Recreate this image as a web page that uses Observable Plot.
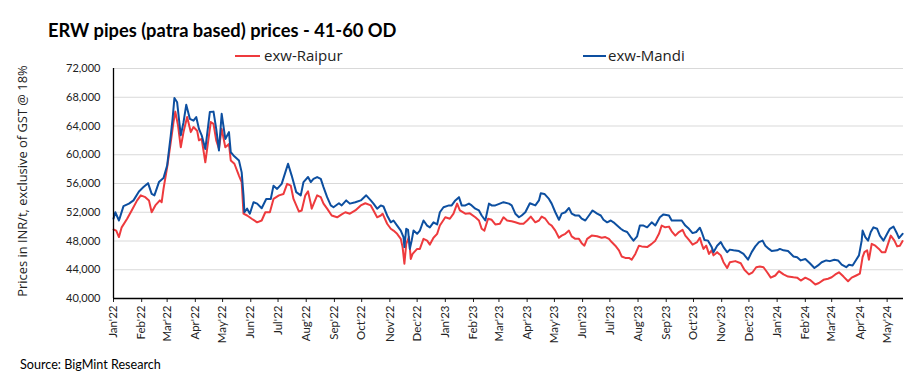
<!DOCTYPE html>
<html>
<head>
<meta charset="utf-8">
<script src="https://cdn.jsdelivr.net/npm/d3@7"></script>
<script src="https://cdn.jsdelivr.net/npm/@observablehq/plot@0.6"></script>
<style>
  html, body { margin: 0; padding: 0; background: #fff; }
  #wrap { position: relative; width: 917px; height: 380px; overflow: hidden; background: #fff; }
  #chart { position: absolute; left: 0; top: 50px; z-index: 1; }
  #title { position: absolute; left: 48px; top: 20px; font: bold 18.3px Lato, "Open Sans", sans-serif; line-height: 20px; color: #000; white-space: nowrap; z-index: 2; }
  .leg { position: absolute; top: 45px; font: 15px "Open Sans", sans-serif; line-height: 20px; color: #222; white-space: nowrap; z-index: 2; }
  .legline { position: absolute; top: 54.5px; height: 2.2px; z-index: 2; }
  #source { position: absolute; left: 20px; top: 358px; font: 12.6px Lato, sans-serif; line-height: 14px; color: #000; white-space: nowrap; z-index: 2; }
  #ylabel { position: absolute; left: -128px; top: 173px; width: 300px; text-align: center; font: 12.9px "Open Sans", sans-serif; line-height: 16px; color: #222; white-space: nowrap; transform: rotate(-90deg); transform-origin: 50% 50%; z-index: 2; }
</style>
</head>
<body>
<div id="wrap">
  <div id="chart"></div>
  <div id="title"></div>
  <div class="legline" style="left:235px;width:25px;background:#ee3a3d"></div>
  <div class="leg" id="leg1" style="left:264px"></div>
  <div class="legline" style="left:583px;width:23px;background:#0d4fa0"></div>
  <div class="leg" id="leg2" style="left:608px"></div>
  <div id="ylabel"></div>
  <div id="source"></div>
</div>
<script>
const titleText = "ERW pipes (patra based) prices - 41-60 OD";
const seriesNames = ["exw-Raipur", "exw-Mandi"];
const yLabel = "Prices in INR/t, exclusive of GST @ 18%";
const sourceText = "Source: BigMint Research";

const yTicks = [40000, 44000, 48000, 52000, 56000, 60000, 64000, 68000, 72000];
const monthTicks = ["2022-01-01","2022-02-01","2022-03-01","2022-04-01","2022-05-01","2022-06-01","2022-07-01","2022-08-01","2022-09-01","2022-10-01","2022-11-01","2022-12-01","2023-01-01","2023-02-01","2023-03-01","2023-04-01","2023-05-01","2023-06-01","2023-07-01","2023-08-01","2023-09-01","2023-10-01","2023-11-01","2023-12-01","2024-01-01","2024-02-01","2024-03-01","2024-04-01","2024-05-01"];
const monthLabels = ["Jan'22","Feb'22","Mar'22","Apr'22","May'22","Jun'22","Jul'22","Aug'22","Sep'22","Oct'22","Nov'22","Dec'22","Jan'23","Feb'23","Mar'23","Apr'23","May'23","Jun'23","Jul'23","Aug'23","Sep'23","Oct'23","Nov'23","Dec'23","Jan'24","Feb'24","Mar'24","Apr'24","May'24"];
const xDomain = ["2022-01-01", "2024-05-19"];

const mandiDates = ["2022-01-01","2022-01-03","2022-01-07","2022-01-12","2022-01-18","2022-01-23","2022-01-29","2022-02-03","2022-02-08","2022-02-12","2022-02-15","2022-02-20","2022-02-25","2022-03-01","2022-03-05","2022-03-07","2022-03-09","2022-03-12","2022-03-16","2022-03-19","2022-03-22","2022-03-26","2022-03-30","2022-04-02","2022-04-05","2022-04-08","2022-04-12","2022-04-17","2022-04-21","2022-04-24","2022-04-27","2022-04-30","2022-05-04","2022-05-08","2022-05-10","2022-05-13","2022-05-19","2022-05-22","2022-05-24","2022-05-25","2022-05-28","2022-05-31","2022-06-04","2022-06-08","2022-06-13","2022-06-18","2022-06-23","2022-06-26","2022-06-30","2022-07-05","2022-07-09","2022-07-12","2022-07-16","2022-07-21","2022-07-26","2022-07-29","2022-08-03","2022-08-06","2022-08-09","2022-08-13","2022-08-17","2022-08-20","2022-08-24","2022-08-28","2022-08-31","2022-09-06","2022-09-09","2022-09-14","2022-09-18","2022-09-24","2022-09-30","2022-10-06","2022-10-11","2022-10-14","2022-10-18","2022-10-22","2022-10-25","2022-10-29","2022-11-02","2022-11-05","2022-11-09","2022-11-13","2022-11-16","2022-11-17","2022-11-19","2022-11-21","2022-11-23","2022-11-25","2022-11-27","2022-12-01","2022-12-04","2022-12-08","2022-12-12","2022-12-15","2022-12-19","2022-12-23","2022-12-26","2022-12-30","2023-01-05","2023-01-08","2023-01-12","2023-01-16","2023-01-19","2023-01-23","2023-01-27","2023-01-30","2023-02-03","2023-02-07","2023-02-10","2023-02-14","2023-02-18","2023-02-21","2023-02-25","2023-03-02","2023-03-06","2023-03-12","2023-03-15","2023-03-19","2023-03-23","2023-03-26","2023-03-30","2023-04-04","2023-04-10","2023-04-14","2023-04-16","2023-04-20","2023-04-25","2023-04-28","2023-05-02","2023-05-06","2023-05-09","2023-05-13","2023-05-17","2023-05-20","2023-05-24","2023-05-28","2023-05-31","2023-06-04","2023-06-08","2023-06-12","2023-06-17","2023-06-21","2023-06-24","2023-06-28","2023-07-02","2023-07-05","2023-07-09","2023-07-13","2023-07-16","2023-07-20","2023-07-24","2023-07-27","2023-07-31","2023-08-03","2023-08-07","2023-08-11","2023-08-16","2023-08-20","2023-08-25","2023-08-29","2023-09-04","2023-09-07","2023-09-13","2023-09-18","2023-09-22","2023-09-26","2023-09-30","2023-10-04","2023-10-08","2023-10-10","2023-10-13","2023-10-17","2023-10-21","2023-10-23","2023-10-27","2023-10-31","2023-11-03","2023-11-07","2023-11-10","2023-11-14","2023-11-20","2023-11-25","2023-11-30","2023-12-04","2023-12-08","2023-12-12","2023-12-16","2023-12-19","2023-12-23","2023-12-26","2024-01-01","2024-01-04","2024-01-08","2024-01-13","2024-01-19","2024-01-23","2024-01-27","2024-02-01","2024-02-06","2024-02-11","2024-02-15","2024-02-19","2024-02-24","2024-02-28","2024-03-04","2024-03-08","2024-03-12","2024-03-17","2024-03-20","2024-03-24","2024-03-28","2024-03-31","2024-04-03","2024-04-04","2024-04-07","2024-04-10","2024-04-13","2024-04-16","2024-04-20","2024-04-23","2024-04-27","2024-05-01","2024-05-04","2024-05-08","2024-05-12","2024-05-14","2024-05-18"];
const mandiValues = [51100,52000,50850,52850,53200,53650,54900,55500,56050,54550,54350,56200,56750,58500,62700,65000,67900,67300,62700,64500,66950,65000,64750,65250,63600,62700,60800,65950,66000,63600,60600,65700,62200,63150,60350,59900,59200,57550,54350,52000,52500,51800,53400,53200,52550,53850,53850,55700,55250,55950,57550,58750,57100,54800,54350,56200,56900,56200,56650,56900,56650,55500,54100,52950,52700,53250,52950,53650,53200,53400,53650,54350,53650,53200,52500,52950,52800,51550,50600,50850,50150,49450,48550,47150,49700,49550,46900,48050,49450,49000,49450,50850,50150,49900,50600,50300,52000,52700,52950,52950,53650,54100,52950,52950,53200,52950,52500,52250,51550,50850,53200,52950,52950,53200,53400,53200,52950,51800,51300,51550,52000,53250,52950,53650,54650,54550,53850,53200,52000,50950,51800,52000,52600,51800,51550,51550,51100,50850,51550,52250,51800,51550,50950,50600,50850,50600,50150,49700,49450,49250,48550,48050,48650,50150,50150,49900,50600,50150,51300,51700,51550,50850,50850,50850,50150,49700,49100,49250,49850,49250,48150,48050,47150,46450,47350,47850,47150,46450,46800,46700,46600,46200,45400,46450,47250,47850,48050,47350,46900,46600,46700,46900,46700,46600,45850,45750,45300,45500,44900,44250,44600,45050,45300,45200,45400,45300,44700,44350,44700,44600,45400,46000,48050,49450,48550,48050,49250,49900,49700,48750,48050,49000,49700,50000,49000,48400,49000];

const raipurDates = ["2022-01-01","2022-01-04","2022-01-07","2022-01-10","2022-01-16","2022-01-21","2022-01-27","2022-01-31","2022-02-05","2022-02-09","2022-02-12","2022-02-16","2022-02-21","2022-02-23","2022-02-25","2022-03-01","2022-03-05","2022-03-08","2022-03-10","2022-03-13","2022-03-16","2022-03-19","2022-03-23","2022-03-27","2022-03-30","2022-04-03","2022-04-05","2022-04-08","2022-04-12","2022-04-15","2022-04-18","2022-04-21","2022-04-24","2022-04-27","2022-04-30","2022-05-04","2022-05-08","2022-05-10","2022-05-14","2022-05-19","2022-05-22","2022-05-24","2022-05-28","2022-06-02","2022-06-08","2022-06-13","2022-06-17","2022-06-22","2022-06-26","2022-07-02","2022-07-07","2022-07-11","2022-07-15","2022-07-18","2022-07-24","2022-07-27","2022-07-31","2022-08-03","2022-08-06","2022-08-07","2022-08-13","2022-08-17","2022-08-20","2022-08-24","2022-08-29","2022-09-04","2022-09-09","2022-09-13","2022-09-18","2022-09-24","2022-09-30","2022-10-05","2022-10-11","2022-10-14","2022-10-18","2022-10-22","2022-10-24","2022-10-29","2022-11-02","2022-11-05","2022-11-09","2022-11-13","2022-11-15","2022-11-17","2022-11-19","2022-11-22","2022-11-24","2022-11-26","2022-12-01","2022-12-04","2022-12-08","2022-12-12","2022-12-15","2022-12-19","2022-12-23","2022-12-26","2023-01-01","2023-01-06","2023-01-10","2023-01-14","2023-01-17","2023-01-23","2023-01-28","2023-02-03","2023-02-07","2023-02-10","2023-02-13","2023-02-17","2023-02-21","2023-02-25","2023-03-02","2023-03-06","2023-03-10","2023-03-15","2023-03-19","2023-03-24","2023-03-28","2023-04-01","2023-04-05","2023-04-10","2023-04-14","2023-04-17","2023-04-21","2023-04-25","2023-04-28","2023-05-02","2023-05-06","2023-05-09","2023-05-13","2023-05-17","2023-05-20","2023-05-24","2023-05-28","2023-05-31","2023-06-03","2023-06-06","2023-06-11","2023-06-17","2023-06-22","2023-06-26","2023-06-30","2023-07-03","2023-07-07","2023-07-11","2023-07-14","2023-07-18","2023-07-22","2023-07-25","2023-07-29","2023-08-02","2023-08-05","2023-08-11","2023-08-16","2023-08-20","2023-08-24","2023-08-27","2023-08-31","2023-09-04","2023-09-07","2023-09-11","2023-09-15","2023-09-19","2023-09-22","2023-09-26","2023-09-30","2023-10-05","2023-10-08","2023-10-10","2023-10-12","2023-10-15","2023-10-18","2023-10-21","2023-10-23","2023-10-27","2023-10-31","2023-11-03","2023-11-07","2023-11-10","2023-11-16","2023-11-22","2023-11-26","2023-12-01","2023-12-05","2023-12-09","2023-12-13","2023-12-17","2023-12-21","2023-12-25","2023-12-30","2024-01-03","2024-01-08","2024-01-13","2024-01-19","2024-01-23","2024-01-27","2024-02-01","2024-02-06","2024-02-12","2024-02-16","2024-02-21","2024-02-26","2024-03-01","2024-03-05","2024-03-09","2024-03-14","2024-03-19","2024-03-23","2024-03-28","2024-04-01","2024-04-04","2024-04-06","2024-04-09","2024-04-11","2024-04-14","2024-04-18","2024-04-22","2024-04-25","2024-04-29","2024-05-02","2024-05-05","2024-05-09","2024-05-12","2024-05-15","2024-05-18"];
const raipurValues = [49600,49450,48550,49900,51100,52250,53650,54350,54100,53650,52000,52950,53650,53400,55250,58250,61750,64550,66000,64050,61050,63150,65250,63150,63850,63350,62000,62200,58950,61750,64550,64300,62000,60850,63600,61050,61500,59200,58750,57100,56200,51800,51550,51100,50600,50850,52000,52000,53850,54350,54550,55950,55700,53850,52100,52250,54350,54900,53200,52500,54350,54100,53200,52500,51550,51300,51700,52000,51800,52250,52950,53250,52950,52250,51300,51550,51800,50400,49700,49450,49000,48300,47150,44850,47600,48550,45500,46200,46900,46900,48300,48050,47500,48450,49000,50150,51300,51100,51800,53200,52250,51800,51850,51300,50850,49700,49450,51100,50950,50300,50400,51300,50850,50750,50600,50400,50400,50850,51400,50600,50850,51400,51100,50400,50150,49450,48450,48750,49000,49450,48650,48300,48300,47700,47350,48300,48750,48650,48450,48550,48300,47850,47350,46700,45850,45650,45650,45400,46200,47350,47250,47150,47600,48050,49000,50150,49900,50000,49350,48750,49250,49550,48750,48150,47500,47850,48450,47600,46900,47350,46200,46700,46000,46450,46000,45050,44250,45050,45200,44900,44000,43350,43650,44350,44450,44350,43650,42900,43200,43800,43350,43050,42950,42900,42500,42900,42600,41950,42150,42600,42750,42950,43350,43650,43050,42400,42900,43200,43450,45750,46450,46700,45400,47600,47350,46900,46450,46450,47600,48750,48050,47250,47350,48000];

const raipurColor = "#ee3a3d";
const mandiColor = "#0d4fa0";

document.getElementById("title").textContent = titleText;
document.getElementById("leg1").textContent = seriesNames[0];
document.getElementById("leg2").textContent = seriesNames[1];
document.getElementById("ylabel").textContent = yLabel;
document.getElementById("source").textContent = sourceText;

const parse = d3.utcParse("%Y-%m-%d");
const raipur = raipurDates.map((d, i) => ({date: parse(d), value: raipurValues[i], series: seriesNames[0]}));
const mandi = mandiDates.map((d, i) => ({date: parse(d), value: mandiValues[i], series: seriesNames[1]}));
const tickDates = monthTicks.map(parse);
const labelFor = new Map(tickDates.map((d, i) => [+d, monthLabels[i]]));

const chart = Plot.plot({
  width: 917,
  height: 300,
  marginTop: 18,
  marginBottom: 52,
  marginLeft: 113,
  marginRight: 14,
  style: {fontFamily: "Lato, 'Open Sans', sans-serif", fontSize: "11px", color: "#222", background: "transparent"},
  x: {type: "utc", domain: xDomain.map(parse)},
  y: {domain: [40000, 72000]},
  marks: [
    Plot.gridY(yTicks, {stroke: "#d9d9d9", strokeOpacity: 1, strokeWidth: 1}),
    Plot.axisY(yTicks, {tickSize: 0, tickPadding: 13, tickFormat: d3.format(","), fontSize: 11, label: null}),
    Plot.axisX(tickDates, {tickSize: 4, tickPadding: 3, tickRotate: -90, tickFormat: d => labelFor.get(+d), label: null, fontSize: 11.5}),
    Plot.lineY(raipur, {x: "date", y: "value", stroke: raipurColor, strokeWidth: 2, curve: "linear"}),
    Plot.lineY(mandi, {x: "date", y: "value", stroke: mandiColor, strokeWidth: 2, curve: "linear"}),
    Plot.ruleY([40000], {stroke: "#000", strokeWidth: 1.3}),
    Plot.ruleX([parse(xDomain[0])], {stroke: "#000", strokeWidth: 1.3})
  ]
});
document.getElementById("chart").appendChild(chart);
</script>
</body>
</html>
